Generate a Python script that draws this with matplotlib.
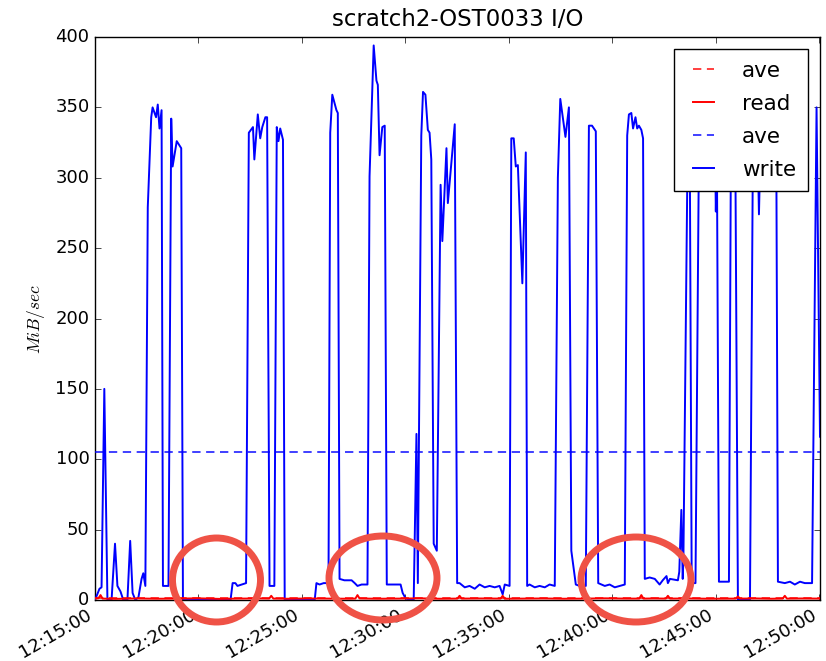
import datetime
import matplotlib
matplotlib.use("Agg")
import matplotlib.pyplot as plt
import matplotlib.dates as mdates
from matplotlib.patches import Ellipse

# ---------------- data (seconds after 12:15:00, MiB/sec) ----------------
write_sec = [0, 13, 19, 27, 36, 48, 58, 65, 74, 82, 94, 102, 109, 117, 126, 135, 140, 146,
             153, 163, 167, 177, 182, 187, 193, 197, 213, 221, 225, 237, 250, 255,
             393, 399, 407, 413, 425, 438,
             446, 458, 462, 472, 479, 485, 494, 499, 506, 520, 527, 532, 537, 545, 550,
             637, 642, 651, 663, 677,
             682, 688, 700, 704, 709, 723, 744, 753, 761, 773, 790,
             796, 808, 816, 820, 825, 833, 840, 846, 869, 886, 892, 901, 918, 924,
             932, 936, 946, 951, 958, 965, 970, 975, 982, 991,
             1002, 1007, 1019, 1023, 1043, 1050, 1057, 1072, 1086, 1101, 1115, 1130,
             1144, 1159, 1173, 1182, 1188, 1202,
             1207, 1214, 1220, 1226, 1239, 1249, 1253, 1260, 1275, 1289, 1304, 1318, 1333,
             1342, 1349, 1364, 1374, 1381, 1394, 1405, 1423,
             1432, 1441, 1452, 1459, 1478, 1492, 1507, 1521, 1536,
             1543, 1548, 1555, 1560, 1567, 1572, 1577, 1584, 1589, 1594, 1608, 1623,
             1637, 1646, 1657, 1661, 1667, 1690, 1694, 1700, 1704, 1706, 1719, 1724,
             1730, 1741, 1750, 1755, 1761, 1782, 1797, 1800, 1803, 1809, 1838,
             1844, 1856, 1864, 1899, 1908, 1920, 1925, 1931, 1975, 1980,
             2000, 2015, 2029, 2044, 2058, 2079, 2092, 2102]
write_val = [0, 8, 9, 150, 0, 0, 40, 10, 6, 0, 0, 42, 5, 0, 2, 15, 19, 10,
             279, 343, 350, 343, 352, 335, 348, 10, 10, 342, 308, 326, 321, 0,
             0, 12, 12, 10, 11, 12,
             332, 336, 313, 345, 328, 336, 343, 343, 10, 10, 336, 326, 335, 327, 0,
             0, 12, 11, 12, 12,
             332, 359, 348, 346, 15, 14, 14, 12, 10, 11, 11,
             301, 394, 369, 366, 316, 336, 337, 11, 11, 11, 5, 1, 0, 0,
             118, 12, 330, 361, 359, 334, 332, 313, 40, 35,
             295, 255, 321, 282, 338, 12, 12, 9, 10, 8, 11, 9,
             10, 9, 10, 4, 11, 10,
             328, 328, 308, 309, 225, 318, 10, 11, 9, 10, 9, 11, 10,
             300, 356, 329, 350, 35, 11, 10, 10,
             337, 337, 333, 12, 10, 11, 9, 10, 11,
             330, 345, 346, 335, 343, 335, 337, 334, 328, 15, 16, 15,
             11, 14, 17, 12, 15, 14, 20, 64, 15, 30, 340, 345,
             12, 12, 290, 291, 340, 345, 340, 276, 320, 13, 13,
             340, 340, 0, 0, 340, 340, 274, 340, 340, 13,
             12, 13, 11, 13, 12, 12, 350, 116]

read_sec = [0, 10, 16, 22, 60, 120, 180, 240, 300, 360, 420, 480, 505, 511, 517, 560, 620,
            680, 740, 755, 761, 767, 820, 880, 940, 1000, 1051, 1057, 1063, 1120, 1176,
            1182, 1188, 1240, 1300, 1360, 1420, 1480, 1540, 1578, 1584, 1590, 1620, 1655,
            1661, 1667, 1720, 1780, 1858, 1864, 1870, 1920, 1960, 1994, 2000, 2006, 2050, 2102]
read_val = [1.0, 1.2, 3.5, 1.0, 0.8, 1.1, 0.9, 1.0, 1.2, 0.8, 1.0, 1.1, 1.0, 3.0, 1.0, 0.9, 1.1,
            1.0, 0.9, 1.0, 3.5, 1.1, 0.9, 1.0, 1.2, 0.9, 1.0, 3.0, 1.0, 1.1, 1.0,
            3.0, 0.9, 1.0, 1.1, 0.9, 1.0, 1.2, 1.0, 1.0, 3.5, 1.0, 1.1, 1.0,
            3.0, 1.0, 1.1, 0.9, 1.0, 2.5, 1.0, 1.1, 0.9, 1.0, 3.0, 1.0, 1.1, 1.0]

write_ave = 105.0
read_ave = 1.2

title = "scratch2-OST0033 I/O"
ylabel = r"$MiB/sec$"
legend_labels = ["ave", "read", "ave", "write"]

# ---------------- figure ----------------
plt.style.use("classic")
W, H = 826, 661
fig = plt.figure(figsize=(W / 100, H / 100), dpi=100, facecolor="white")
ax = fig.add_axes([95 / W, 1 - 600 / H, (820 - 95) / W, (600 - 37) / H])
ax.set_facecolor("white")

base = datetime.datetime(2013, 1, 1, 12, 15, 0)
wt = [base + datetime.timedelta(seconds=s) for s in write_sec]
rt = [base + datetime.timedelta(seconds=s) for s in read_sec]
t0, t1 = wt[0], wt[-1]

LW = 1.4
h1, = ax.plot([t0, t1], [read_ave, read_ave], color="r", ls="--", dashes=(6, 4), lw=LW,
              alpha=0.75, zorder=4)
h2, = ax.plot(rt, read_val, color="r", lw=LW, zorder=4)
h3, = ax.plot([t0, t1], [write_ave, write_ave], color="b", ls="--", dashes=(6, 4), lw=LW,
              alpha=0.75, zorder=3)
h4, = ax.plot(wt, write_val, color="b", lw=LW, zorder=3)

ax.set_xlim(t0, t1)
ax.set_ylim(0, 400)
ax.yaxis.set_major_locator(matplotlib.ticker.MultipleLocator(50))
ax.xaxis.set_major_locator(mdates.MinuteLocator(byminute=range(0, 60, 5)))
ax.xaxis.set_major_formatter(mdates.DateFormatter("%H:%M:%S"))
ax.tick_params(labelsize=13)
for lbl in ax.get_xticklabels():
    lbl.set_rotation(30)
    lbl.set_ha("right")

ax.set_title(title, fontsize=16.5, pad=8)
ax.set_ylabel(ylabel, fontsize=12.5, labelpad=6)

leg = ax.legend([h1, h2, h3, h4], legend_labels, loc="upper right",
                bbox_to_anchor=(808 / W, 1 - 49 / H), bbox_transform=fig.transFigure,
                borderaxespad=0, fontsize=15.5, handlelength=1.6, handletextpad=1.0,
                labelspacing=0.6, borderpad=0.55, fancybox=False, shadow=False)
leg.get_frame().set_edgecolor("black")
leg.set_zorder(10)

# red annotation circles drawn over the chart
for cx, cy, w, h in [(216.5, 580, 88, 84), (383, 578, 108, 84), (636, 579.5, 110, 85)]:
    e = Ellipse((cx / W, 1 - cy / H), w / W, h / H, transform=fig.transFigure,
                fill=False, ec="#ef5246", lw=5, clip_on=False, zorder=20)
    fig.add_artist(e)

fig.savefig("out.png", dpi=100, facecolor="white")
